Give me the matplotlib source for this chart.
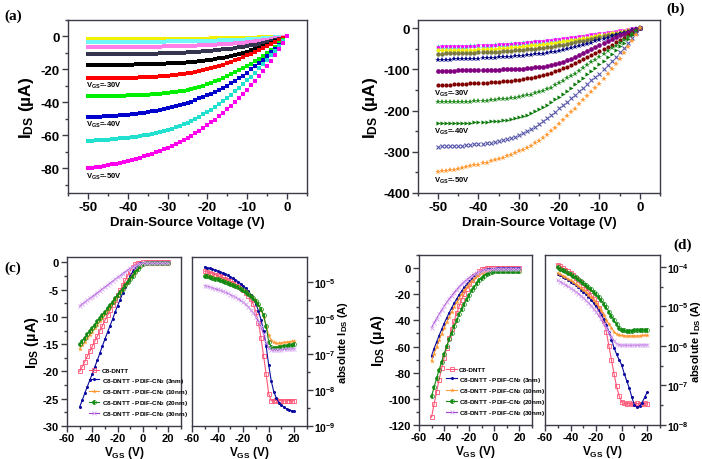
import numpy as np
import matplotlib
matplotlib.use('Agg')
import matplotlib.pyplot as plt
from matplotlib import font_manager
from matplotlib.ticker import MultipleLocator, FixedLocator


def pick_family(cands):
    # first family that really has a bold face installed
    for name in cands:
        for f in font_manager.fontManager.ttflist:
            w = f.weight if isinstance(f.weight, int) else font_manager.weight_dict.get(str(f.weight), 400)
            if f.name == name and w >= 600:
                return name
    return cands[-1]


SANS = pick_family(['Liberation Sans', 'Arimo', 'Roboto', 'Noto Sans', 'Open Sans', 'Lato', 'DejaVu Sans'])
SERIF = pick_family(['Liberation Serif', 'DejaVu Serif'])

plt.rcParams['font.family'] = SANS
plt.rcParams['font.weight'] = 'bold'
plt.rcParams['axes.unicode_minus'] = False
plt.rcParams['mathtext.fontset'] = 'custom'
plt.rcParams['mathtext.rm'] = SANS + ':bold'
plt.rcParams['mathtext.bf'] = SANS + ':bold'
plt.rcParams['mathtext.it'] = SANS + ':bold'
plt.rcParams['mathtext.default'] = 'bf'

# ---------- (a) output curves, |I_DS| in uA, V_DS = -50 ... 0 V ----------
vds = list(range(-50, 1))
a_vgs_5 = [1.8, 1.8, 1.8, 1.8, 1.8, 1.8, 1.7, 1.7, 1.7, 1.7, 1.7, 1.7, 1.7, 1.6, 1.6, 1.6, 1.6,
           1.6, 1.6, 1.5, 1.5, 1.5, 1.5, 1.5, 1.4, 1.4, 1.4, 1.4, 1.3, 1.3, 1.3, 1.2, 1.2, 1.2,
           1.1, 1.1, 1.0, 1.0, 0.9, 0.9, 0.8, 0.8, 0.7, 0.6, 0.6, 0.5, 0.4, 0.3, 0.2, 0.1, 0]
a_vgs_10 = [3.4, 3.4, 3.4, 3.4, 3.4, 3.3, 3.3, 3.3, 3.3, 3.3, 3.3, 3.2, 3.2, 3.2, 3.2, 3.2, 3.1,
            3.1, 3.1, 3.1, 3.0, 3.0, 3.0, 2.9, 2.9, 2.9, 2.8, 2.8, 2.7, 2.7, 2.6, 2.6, 2.5, 2.4,
            2.4, 2.3, 2.2, 2.1, 2.0, 1.9, 1.8, 1.6, 1.5, 1.3, 1.2, 1.0, 0.8, 0.6, 0.4, 0.2, 0]
a_vgs_15 = [6.5, 6.5, 6.5, 6.5, 6.4, 6.4, 6.4, 6.4, 6.4, 6.3, 6.3, 6.3, 6.3, 6.2, 6.2, 6.2, 6.1,
            6.1, 6.1, 6.0, 6.0, 5.9, 5.9, 5.8, 5.8, 5.7, 5.6, 5.5, 5.4, 5.3, 5.2, 5.1, 5.0, 4.8,
            4.7, 4.5, 4.3, 4.1, 3.9, 3.7, 3.4, 3.1, 2.8, 2.5, 2.2, 1.9, 1.5, 1.1, 0.8, 0.4, 0]
a_vgs_20 = [10.9, 10.9, 10.9, 10.9, 10.8, 10.8, 10.8, 10.8, 10.7, 10.7, 10.7, 10.6, 10.6, 10.6,
            10.5, 10.5, 10.4, 10.4, 10.3, 10.3, 10.2, 10.1, 10.0, 9.9, 9.8, 9.7, 9.6, 9.4, 9.3,
            9.1, 8.9, 8.7, 8.5, 8.2, 7.9, 7.6, 7.3, 7.0, 6.6, 6.2, 5.8, 5.4, 4.9, 4.4, 3.9, 3.3,
            2.7, 2.1, 1.4, 0.7, 0]
a_vgs_25 = [17.4, 17.4, 17.4, 17.3, 17.3, 17.3, 17.3, 17.2, 17.2, 17.2, 17.1, 17.1, 17.0, 17.0,
            16.9, 16.9, 16.8, 16.7, 16.6, 16.5, 16.4, 16.3, 16.2, 16.0, 15.9, 15.7, 15.5, 15.3,
            15.0, 14.7, 14.4, 14.1, 13.7, 13.3, 12.9, 12.4, 11.9, 11.3, 10.7, 10.0, 9.3, 8.5,
            7.6, 6.7, 5.8, 4.9, 3.9, 3.0, 2.0, 1.0, 0]
a_vgs_30 = [25.5, 25.5, 25.4, 25.4, 25.4, 25.3, 25.3, 25.2, 25.2, 25.1, 25.1, 25.0, 24.9, 24.8,
            24.7, 24.6, 24.5, 24.4, 24.2, 24.0, 23.8, 23.6, 23.3, 23.0, 22.7, 22.3, 21.9, 21.5,
            21.0, 20.5, 19.9, 19.3, 18.6, 17.9, 17.1, 16.3, 15.4, 14.5, 13.5, 12.5, 11.5, 10.4,
            9.3, 8.1, 6.9, 5.8, 4.6, 3.5, 2.3, 1.2, 0]
a_vgs_35 = [36.4, 36.4, 36.3, 36.3, 36.2, 36.2, 36.1, 36.1, 36.0, 35.9, 35.8, 35.7, 35.6, 35.5,
            35.4, 35.3, 35.1, 34.9, 34.7, 34.5, 34.2, 33.9, 33.6, 33.2, 32.8, 32.4, 31.8, 31.2,
            30.5, 29.8, 29.0, 28.1, 27.2, 26.2, 25.2, 24.1, 23.0, 21.8, 20.6, 19.3, 18.0, 16.6,
            15.1, 13.5, 11.8, 10.0, 8.1, 6.1, 4.1, 2.1, 0]
a_vgs_40 = [48.9, 48.8, 48.7, 48.6, 48.5, 48.3, 48.2, 48.0, 47.8, 47.6, 47.4, 47.1, 46.8, 46.5,
            46.2, 45.8, 45.4, 45.0, 44.5, 44.0, 43.5, 43.0, 42.4, 41.7, 41.0, 40.3, 39.5, 38.6,
            37.6, 36.7, 35.8, 34.9, 33.9, 32.7, 31.4, 30.0, 28.5, 27.0, 25.4, 23.7, 21.9, 20.0,
            18.1, 16.1, 14.0, 11.8, 9.6, 7.3, 4.9, 2.5, 0]
a_vgs_45 = [63.5, 63.3, 63.1, 63.0, 62.8, 62.6, 62.4, 62.2, 61.9, 61.7, 61.4, 61.1, 60.8, 60.5,
            60.1, 59.7, 59.2, 58.7, 58.1, 57.5, 56.8, 56.0, 55.2, 54.3, 53.3, 52.3, 51.2, 50.0,
            48.7, 47.3, 45.9, 44.4, 42.8, 41.1, 39.3, 37.4, 35.4, 33.3, 31.2, 29.0, 26.7, 24.3,
            21.9, 19.4, 16.8, 14.2, 11.5, 8.7, 5.9, 3.0, 0]
a_vgs_50 = [80.0, 79.7, 79.4, 79.0, 78.6, 78.2, 77.7, 77.2, 76.7, 76.1, 75.5, 74.9, 74.2, 73.5,
            72.8, 72.0, 71.2, 70.3, 69.4, 68.5, 67.5, 66.4, 65.3, 64.1, 62.9, 61.6, 60.2, 58.8,
            57.3, 55.7, 54.0, 52.2, 50.4, 48.4, 46.4, 44.3, 42.1, 39.8, 37.4, 34.9, 32.3, 29.6,
            26.8, 23.9, 20.9, 17.8, 14.6, 11.2, 7.6, 3.9, 0]

# ---------- (b) output curves, |I_DS| in uA ----------
b_vgs_0 = [43.7, 43.5, 43.3, 43.1, 42.9, 42.6, 42.3, 42, 41.7, 41.3, 40.9, 40.5, 40.1, 39.6, 39.1,
           38.6, 38, 37.4, 36.7, 36, 35.3, 34.5, 33.7, 32.9, 32, 31.1, 30.2, 29.2, 28.2, 27.2,
           26.1, 25, 23.9, 22.7, 21.5, 20.3, 19.1, 17.8, 16.5, 15.2, 13.9, 12.6, 11.2, 9.8, 8.4,
           7, 5.6, 4.2, 2.8, 1.4, 0]
b_vgs_5 = [46.8, 46.7, 46.6, 46.4, 46.2, 46, 45.7, 45.4, 45.1, 44.7, 44.3, 43.9, 43.4, 42.9, 42.3,
           41.7, 41.1, 40.4, 39.7, 38.9, 38.1, 37.3, 36.4, 35.5, 34.5, 33.5, 32.5, 31.4, 30.3, 29.2,
           28, 26.8, 25.6, 24.3, 23, 21.7, 20.4, 19, 17.6, 16.2, 14.8, 13.4, 12, 10.5, 9, 7.5, 6,
           4.5, 3, 1.5, 0]
b_vgs_10 = [53.6, 53.5, 53.4, 53.2, 53, 52.8, 52.6, 52.3, 52, 51.7, 51.3, 50.9, 50.4, 49.9, 49.3,
            48.7, 48, 47.3, 46.5, 45.7, 44.8, 43.9, 42.9, 41.9, 40.8, 39.7, 38.5, 37.3, 36, 34.7,
            33.3, 31.9, 30.4, 28.9, 27.4, 25.8, 24.2, 22.6, 21, 19.3, 17.6, 15.9, 14.2, 12.5,
            10.8, 9, 7.2, 5.4, 3.6, 1.8, 0]
b_vgs_15 = [61.7, 61.5, 61.3, 61.1, 60.9, 60.6, 60.3, 60, 59.7, 59.3, 58.9, 58.5, 58.1, 57.6, 57.1,
            56.6, 56, 55.4, 54.7, 54, 53.2, 52.4, 51.5, 50.6, 49.6, 48.5, 47.3, 46, 44.5, 43,
            41.5, 39.8, 38, 36, 34, 32, 30, 28, 26, 24, 22, 19.8, 17.6, 15.4, 13.2, 11, 8.8, 6.5,
            4.2, 2, 0]
b_vgs_20 = [77, 76.7, 76.4, 76.1, 75.8, 75.5, 75.2, 74.9, 74.5, 74.1, 73.7, 73.2, 72.7, 72.2, 71.6,
            71, 70.4, 69.7, 69, 68.2, 67.5, 66.5, 65.5, 64.5, 63.5, 62.5, 61.5, 60, 58.5, 57,
            55, 53, 51, 49, 46.5, 44, 41, 38, 35, 32, 29, 26, 23, 20, 17, 14, 11, 8, 5, 2.5, 0]
b_vgs_25 = [103, 103, 103, 103, 103, 102.5, 102.5, 102.5, 102, 102, 102, 101.5, 101.5, 101, 101,
            100.5, 100, 100, 99.5, 99, 98.5, 98, 97, 96, 95, 94, 93, 91, 89, 87,
            84, 81, 78, 74, 70, 66, 61, 56, 51, 46, 41, 36, 31, 26, 21, 17, 13, 9, 6, 3, 0]
b_vgs_30 = [138, 138, 137, 137, 136, 136, 135, 135, 134, 134, 133, 133, 132, 131, 131, 130, 129,
            128, 127, 126, 125, 123, 122, 120, 118, 116, 114, 111, 108, 105,
            101, 97, 93, 89, 84, 80, 75, 70, 65, 60, 55, 50, 45, 40, 34, 28, 23, 17, 11, 6, 0]
b_vgs_35 = [180, 180, 180, 179, 179, 179, 178, 178, 178, 177, 177, 176, 176, 175, 174, 173, 172,
            171, 170, 169, 167, 165, 163, 161, 158, 155, 152, 148, 144, 139,
            134, 128, 122, 116, 110, 103, 96, 90, 83, 77, 70, 63, 56, 49, 42, 35, 28, 21, 14, 7, 0]
b_vgs_40 = [231, 231, 231, 230, 230, 230, 229, 229, 229, 228, 228, 227, 227, 226, 225, 224, 223,
            222, 220, 218, 216, 213, 210, 206, 202, 197, 192, 186, 180, 173,
            166, 159, 152, 144, 136, 128, 120, 112, 104, 96, 88, 80, 71, 62, 53, 44, 35, 26, 17, 8, 0]
b_vgs_45 = [288, 287, 287, 286, 286, 285, 285, 284, 283, 282, 281, 280, 279, 278, 276, 274, 272,
            269, 266, 263, 259, 255, 250, 245, 239, 233, 226, 219, 211, 203,
            194, 186, 178, 170, 162, 153, 144, 135, 126, 118, 110, 100, 90, 80, 70, 58, 47, 35, 23, 11, 0]
b_vgs_50 = [349, 347, 346, 344, 343, 341, 339, 337, 335, 333, 331, 328, 326, 323, 320, 317, 314,
            311, 307, 303, 299, 295, 290, 285, 279, 273, 266, 258, 250, 241,
            232, 223, 214, 204, 195, 185, 175, 165, 155, 145, 135, 124, 112, 100, 88, 75, 61, 46, 31, 16, 0]

# ---------- (c), (d) transfer curves, |I_DS| in uA, V_GS = -50 ... 20 V ----------
vgs = list(range(-50, 21, 2))
c_dntt = [20.0, 19.1, 18.2, 17.2, 16.3, 15.4, 14.4, 13.5, 12.5, 11.6, 10.6, 9.7, 8.8, 7.8, 6.9,
          6.0, 5.1, 4.2, 3.3, 2.4, 1.5, 0.75, 0.28, 0.09, 0.028, 0.008,
          0.005, 0.005, 0.0052, 0.005, 0.0051, 0.005, 0.005, 0.0051, 0.005, 0.005]
c_3nm = [26.5, 25.3, 24.0, 22.8, 21.6, 20.4, 19.1, 17.9, 16.6, 15.3, 14.0, 12.8, 11.6, 10.4, 9.1,
         7.9, 6.8, 5.6, 4.5, 3.5, 2.5, 1.6, 0.9, 0.45, 0.17, 0.05,
         0.018, 0.009, 0.006, 0.0045, 0.0038, 0.0033, 0.003, 0.0028, 0.00265, 0.00255]
c_10nm = [15.8, 15.2, 14.6, 13.9, 13.3, 12.7, 12.0, 11.4, 10.7, 10.1, 9.4, 8.8, 8.1, 7.5, 6.8,
          6.2, 5.5, 4.9, 4.2, 3.6, 2.9, 2.3, 1.7, 1.1, 0.62, 0.33,
          0.24, 0.21, 0.2, 0.2, 0.205, 0.21, 0.215, 0.22, 0.225, 0.23]
c_20nm = [15.0, 14.4, 13.8, 13.2, 12.6, 12.0, 11.4, 10.8, 10.2, 9.6, 9.0, 8.4, 7.8, 7.2, 6.6,
          6.0, 5.4, 4.8, 4.2, 3.6, 3.0, 2.4, 1.8, 1.2, 0.6, 0.22,
          0.155, 0.15, 0.152, 0.157, 0.162, 0.167, 0.172, 0.176, 0.18, 0.185]
c_30nm = [8.0, 7.65, 7.3, 6.95, 6.6, 6.25, 5.9, 5.55, 5.2, 4.85, 4.5, 4.15, 3.8, 3.45, 3.1,
          2.75, 2.4, 2.05, 1.7, 1.38, 1.07, 0.8, 0.56, 0.36, 0.21, 0.145,
          0.13, 0.128, 0.128, 0.13, 0.132, 0.134, 0.136, 0.138, 0.14, 0.142]
d_dntt = [114, 104, 94.5, 85.4, 76.7, 68.6, 60.8, 53.6, 46.8, 40.4, 34.6, 29.2, 24.2, 19.7, 15.7,
          12.1, 9.0, 6.35, 4.16, 2.3, 1.0, 0.45, 0.2, 0.095, 0.055, 0.038,
          0.035, 0.034, 0.035, 0.034, 0.034, 0.035, 0.034, 0.034, 0.035, 0.034]
d_3nm = [67.0, 61.6, 56.5, 51.6, 46.9, 42.4, 38.2, 34.2, 30.4, 26.8, 23.5, 20.3, 17.4, 14.8, 12.3,
         10.1, 8.1, 6.3, 4.7, 3.4, 2.3, 1.45, 0.9, 0.62, 0.45, 0.33,
         0.2, 0.13, 0.085, 0.05, 0.032, 0.028, 0.03, 0.037, 0.05, 0.068]
d_10nm = [70.8, 65.4, 60.1, 55.1, 50.3, 45.8, 41.4, 37.3, 33.4, 29.6, 26.2, 22.9, 19.8, 17.0, 14.4,
          12.0, 9.8, 7.9, 6.1, 4.6, 3.6, 2.9, 2.3, 2.0, 1.9, 1.85,
          1.8, 1.8, 1.8, 1.8, 1.8, 1.8, 1.82, 1.84, 1.86, 1.88]
d_20nm = [98.0, 91.0, 84.3, 77.8, 71.6, 65.6, 59.9, 54.5, 49.3, 44.4, 39.7, 35.3, 31.1, 27.2, 23.6,
          20.3, 17.1, 14.3, 11.7, 9.4, 7.4, 5.8, 4.5, 3.5, 2.9, 2.6,
          2.5, 2.45, 2.45, 2.45, 2.5, 2.5, 2.55, 2.55, 2.6, 2.6]
d_30nm = [45.6, 42.0, 38.6, 35.3, 32.1, 29.2, 26.3, 23.6, 21.1, 18.7, 16.4, 14.3, 12.3, 10.5, 8.8,
          7.3, 5.9, 4.7, 3.6, 2.9, 2.2, 1.7, 1.35, 1.15, 1.07, 1.05,
          1.05, 1.04, 1.04, 1.04, 1.05, 1.05, 1.05, 1.06, 1.06, 1.07]

series_labels = ['C8-DNTT', 'C8-DNTT - PDIF-CN$_2$ (3nm)', 'C8-DNTT - PDIF-CN$_2$ (10nm)',
                 'C8-DNTT - PDIF-CN$_2$ (20nm)', 'C8-DNTT - PDIF-CN$_2$ (30nm)']

SPINE = '#3c3c48'


def style(ax, xt, yt, xminor, yminor, size=9.5, pad=2):
    for s in ax.spines.values():
        s.set_color(SPINE)
        s.set_linewidth(1.0)
    ax.set_xticks(xt, [str(v) for v in xt], fontweight='bold', fontsize=size)
    if yt is not None:
        ax.set_yticks(yt, [str(v) for v in yt], fontweight='bold', fontsize=size)
        ax.yaxis.set_minor_locator(MultipleLocator(yminor))
    ax.xaxis.set_minor_locator(MultipleLocator(xminor))
    ax.tick_params(which='both', direction='out', top=False, right=False,
                   color=SPINE, width=1, pad=pad)
    ax.tick_params(which='major', length=4)
    ax.tick_params(which='minor', length=2)


fig = plt.figure(figsize=(7.02, 4.6), dpi=100)

# ---------------- panel (a) ----------------
ax = fig.add_axes([68 / 702, 1 - 194 / 460, 239 / 702, 173 / 460])
a_curves = [(a_vgs_5, '#f0f000'), (a_vgs_10, '#70f8f8'), (a_vgs_15, '#ff80e8'),
            (a_vgs_20, '#35354f'), (a_vgs_25, '#000000'), (a_vgs_30, '#ff0000'),
            (a_vgs_35, '#00ee00'), (a_vgs_40, '#0000cc'), (a_vgs_45, '#22e0d0'),
            (a_vgs_50, '#ff00ee')]
for vals, col in a_curves:
    ax.plot(vds, -np.array(vals), 's', color=col, ms=3, mew=0)
style(ax, list(range(-50, 1, 10)), list(range(-80, 1, 20)), 5, 10)
ax.set_xlim(-55, 5)
ax.set_ylim(-95, 10)
ax.set_xlabel('Drain-Source Voltage (V)', fontsize=9.5, fontweight='bold', labelpad=2)
ax.set_ylabel('I$_{DS}$ (µA)', fontsize=12.5, fontweight='bold', labelpad=3)
for y, t in [(-29.4, '-30V'), (-53.3, '-40V'), (-84.7, '-50V')]:
    ax.text(-50.6, y, 'V$_{GS}$=' + t, fontsize=5.5, fontweight='bold', va='center', ha='left')

# ---------------- panel (b) ----------------
ax = fig.add_axes([418 / 702, 1 - 194 / 460, 242 / 702, 173 / 460])
b_curves = [(b_vgs_0, '#33cccc', '^', 3.2), (b_vgs_5, '#ff00ff', 'v', 3.2),
            (b_vgs_10, '#f0f000', 'D', 2.6), (b_vgs_15, '#7a7a40', 'o', 3.2),
            (b_vgs_20, '#000080', '*', 3.8), (b_vgs_25, '#800080', 'o', 3.4),
            (b_vgs_30, '#800000', 'o', 3.0), (b_vgs_35, '#228b22', '*', 3.8),
            (b_vgs_40, '#0b7a0b', '>', 3.0), (b_vgs_45, '#5555aa', 'x', 3.2),
            (b_vgs_50, '#ff9933', '*', 3.8)]
for vals, col, mk, ms in b_curves:
    ax.plot(vds, -np.array(vals), mk, color=col, ms=ms, mew=0.8 if mk == 'x' else 0)
style(ax, list(range(-50, 1, 10)), list(range(-400, 1, 100)), 5, 50)
ax.set_xlim(-55, 5)
ax.set_ylim(-400, 20)
ax.set_xlabel('Drain-Source Voltage (V)', fontsize=9.5, fontweight='bold', labelpad=2)
ax.set_ylabel('I$_{DS}$ (µA)', fontsize=12.5, fontweight='bold', labelpad=2)
for y, t in [(-158, '-30V'), (-249, '-40V'), (-368, '-50V')]:
    ax.text(-51, y, 'V$_{GS}$=' + t, fontsize=5.5, fontweight='bold', va='center', ha='left')

# ---------------- panels (c) and (d) ----------------
cd_style = [dict(color='#ff5577', marker='s', mfc='none', ms=3.2, mew=0.6),
            dict(color='#0a0aa0', marker='o', ms=2.2, mew=0),
            dict(color='#ff9933', marker='*', ms=3.5, mew=0),
            dict(color='#128a12', marker='o', ms=2.8, mew=0.5, fillstyle='left'),
            dict(color='#a040d0', marker='x', ms=2.8, mew=0.6, mec='#d8a8f0')]


def transfer_pair(left_rect, right_rect, data, ylim_lin, yt, ymin, ylim_log, decades, leg_anchor):
    axl = fig.add_axes(left_rect)
    axr = fig.add_axes(right_rect)
    lines = []
    for vals, st, lab in zip(data, cd_style, series_labels):
        ln, = axl.plot(vgs, -np.array(vals), lw=0.8, label=lab, **st)
        axr.plot(vgs, np.array(vals) * 1e-6, lw=0.8, **st)
        lines.append(ln)
    style(axl, [-60, -40, -20, 0, 20], yt, 10, ymin, size=8, pad=1)
    style(axr, [-60, -40, -20, 0, 20], None, 10, None, size=8, pad=1)
    for a in (axl, axr):
        a.set_xlim(-60, 30)
        a.set_xlabel('V$_{GS}$ (V)', fontsize=8.5, fontweight='bold', labelpad=0.5)
    axl.set_ylim(*ylim_lin)
    axl.tick_params(axis='y', pad=2)
    axl.set_ylabel('I$_{DS}$ (µA)', fontsize=10.5, fontweight='bold', labelpad=1)
    leg = axl.legend(handles=lines, loc='lower left', bbox_to_anchor=leg_anchor, fontsize=4.6,
                     frameon=False, handlelength=1.6, labelspacing=0.35, borderaxespad=0,
                     handletextpad=0.4)
    for t in leg.get_texts():
        t.set_fontweight('bold')
    axr.set_yscale('log')
    axr.set_ylim(*ylim_log)
    axr.set_yticks([10.0 ** d for d in decades], ['10$^{%d}$' % d for d in decades],
                   fontsize=7.5)
    axr.yaxis.set_minor_locator(FixedLocator([10.0 ** (d + 0.5) for d in decades[:-1]]))
    axr.tick_params(which='both', left=False, right=True, labelleft=False, labelright=True)
    axr.tick_params(axis='y', pad=1)
    axr.yaxis.set_label_position('right')
    axr.set_ylabel('absolute I$_{DS}$ (A)', fontsize=8, fontweight='bold', labelpad=0)


transfer_pair([67 / 702, 1 - 427 / 460, 114 / 702, 169 / 460],
              [192 / 702, 1 - 427 / 460, 115 / 702, 169 / 460],
              [c_dntt, c_3nm, c_10nm, c_20nm, c_30nm],
              (-30, 1), list(range(-30, 1, 5)), 2.5, (1e-9, 5e-5), [-9, -8, -7, -6, -5], (0.17, 0.03))
transfer_pair([419 / 702, 1 - 426 / 460, 113 / 702, 170 / 460],
              [545 / 702, 1 - 426 / 460, 115 / 702, 170 / 460],
              [d_dntt, d_3nm, d_10nm, d_20nm, d_30nm],
              (-120, 10), list(range(-120, 1, 20)), 10, (1e-8, 2e-4), [-8, -7, -6, -5, -4], (0.22, 0.03))

# panel letters
for x, y, t in [(13, 16, '(a)'), (676, 9, '(b)'), (13, 268, '(c)'), (683, 245, '(d)')]:
    fig.text(x / 702, 1 - y / 460, t, family=SERIF, weight='bold',
             fontsize=11, ha='center', va='center')

fig.savefig('out.png', dpi=100)
